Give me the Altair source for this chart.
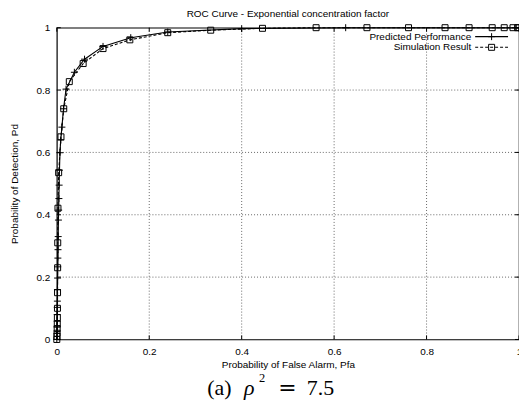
import altair as alt
import pandas as pd

# ---- data ----
pred_x = [0.0, 0.0002, 0.0004, 0.0006, 0.0008, 0.001, 0.0012, 0.0014, 0.0017, 0.002,
          0.0023, 0.0026, 0.003, 0.0035, 0.004, 0.0045, 0.005, 0.0058, 0.0068, 0.0085,
          0.011, 0.0145, 0.02, 0.038, 0.06, 0.1, 0.16, 0.24, 0.40, 0.625, 1.0]
pred_y = [0.0, 0.02, 0.04, 0.059, 0.08, 0.103, 0.123, 0.16, 0.197, 0.233,
          0.261, 0.288, 0.33, 0.383, 0.415, 0.452, 0.495, 0.543, 0.599, 0.64,
          0.681, 0.74, 0.803, 0.857, 0.899, 0.94, 0.968, 0.986, 0.997, 1.0, 1.0]

sim_x = [0.0, 0.0004, 0.0006, 0.0008, 0.001, 0.0012, 0.0014, 0.0016, 0.0018, 0.002,
         0.0025, 0.004, 0.009, 0.015, 0.027, 0.057, 0.100, 0.158, 0.240, 0.333,
         0.445, 0.561, 0.671, 0.761, 0.840, 0.892, 0.942, 0.968, 0.987, 0.997, 1.0]
sim_y = [0.0, 0.01, 0.02, 0.035, 0.05, 0.07, 0.10, 0.15, 0.23, 0.31,
         0.421, 0.535, 0.650, 0.740, 0.827, 0.885, 0.933, 0.961, 0.984, 0.992,
         0.998, 1.0, 1.0, 1.0, 1.0, 1.0, 1.0, 1.0, 1.0, 1.0, 1.0]

series_names = ["Predicted Performance", "Simulation Result"]
tick_values = [0, 0.2, 0.4, 0.6, 0.8, 1]
grid_values = [0.2, 0.4, 0.6, 0.8]
chart_title = "ROC Curve - Exponential concentration factor"
x_title = "Probability of False Alarm, Pfa"
y_title = "Probability of Detection, Pd"
caption_parts = ["(a)", "\u03c1", "2", "=", "7.5"]

# ---- layout ----
W, H = 464, 313
FONT = "Liberation Sans"
SERIF = "Liberation Serif"
PLUS = "M-1,0L1,0M0,-1L0,1"

pred = pd.DataFrame({"x": pred_x, "y": pred_y, "i": range(len(pred_x))})
sim = pd.DataFrame({"x": sim_x, "y": sim_y, "i": range(len(sim_x))})
ticks = pd.DataFrame({"v": tick_values})
grids = pd.DataFrame({"v": grid_values})

xs = alt.Scale(domain=[0, 1], nice=False, zero=False)
ys = alt.Scale(domain=[0, 1], nice=False, zero=False)

x_axis = alt.Axis(values=tick_values, format="~g", title=x_title, grid=False,
                  ticks=False, domain=False, labelPadding=7, labelFontSize=10,
                  labelFont=FONT, labelColor="#000", titleFont=FONT, titleFontSize=10,
                  titleFontWeight="normal", titleColor="#000", titlePadding=3.5,
                  labelOverlap=False, labelFlush=False)
y_axis = alt.Axis(values=tick_values, format="~g", title=y_title, grid=False,
                  ticks=False, domain=False, labelPadding=7, labelFontSize=10,
                  labelFont=FONT, labelColor="#000", titleFont=FONT, titleFontSize=10,
                  titleFontWeight="normal", titleColor="#000", titlePadding=17,
                  labelOverlap=False, labelFlush=False)

axes = alt.Chart(ticks).mark_point(opacity=0).encode(
    x=alt.X("v:Q", scale=xs, axis=x_axis),
    y=alt.Y("v:Q", scale=ys, axis=y_axis),
)

gx = alt.Chart(grids).mark_rule(color="#444", strokeDash=[1, 2], strokeWidth=0.8).encode(
    x=alt.X("v:Q", scale=xs), y=alt.value(0), y2=alt.value(H))
gy = alt.Chart(grids).mark_rule(color="#444", strokeDash=[1, 2], strokeWidth=0.8).encode(
    y=alt.Y("v:Q", scale=ys), x=alt.value(0), x2=alt.value(W))

tk_b = alt.Chart(ticks).mark_rule(color="#000", strokeWidth=1).encode(
    x=alt.X("v:Q", scale=xs), y=alt.value(H), y2=alt.value(H - 4))
tk_t = alt.Chart(ticks).mark_rule(color="#000", strokeWidth=1).encode(
    x=alt.X("v:Q", scale=xs), y=alt.value(0), y2=alt.value(4))
tk_l = alt.Chart(ticks).mark_rule(color="#000", strokeWidth=1).encode(
    y=alt.Y("v:Q", scale=ys), x=alt.value(0), x2=alt.value(4))
tk_r = alt.Chart(ticks).mark_rule(color="#000", strokeWidth=1).encode(
    y=alt.Y("v:Q", scale=ys), x=alt.value(W), x2=alt.value(W - 4))

pred_line = alt.Chart(pred).mark_line(color="#000", strokeWidth=1.1).encode(
    x=alt.X("x:Q", scale=xs), y=alt.Y("y:Q", scale=ys), order="i:O")
pred_pts = alt.Chart(pred).mark_point(shape=PLUS, filled=False, color="#000",
                                      strokeWidth=1, size=49, opacity=1).encode(
    x=alt.X("x:Q", scale=xs), y=alt.Y("y:Q", scale=ys))
sim_line = alt.Chart(sim).mark_line(color="#000", strokeWidth=1.1, strokeDash=[3, 2]).encode(
    x=alt.X("x:Q", scale=xs), y=alt.Y("y:Q", scale=ys), order="i:O")
sim_pts = alt.Chart(sim).mark_point(shape="square", filled=False, color="#000",
                                    strokeWidth=1, size=36, opacity=1).encode(
    x=alt.X("x:Q", scale=xs), y=alt.Y("y:Q", scale=ys))

# legend (drawn by hand, gnuplot style: text then sample)
leg = pd.DataFrame({"name": series_names, "row": [0, 1]})
leg_y = [9, 19.7]
leg_layers = []
for r, name in enumerate(series_names):
    d = leg[leg["row"] == r]
    leg_layers.append(alt.Chart(d).mark_text(align="right", baseline="middle", font=FONT,
                                             fontSize=10, color="#000").encode(
        text="name:N", x=alt.value(416), y=alt.value(leg_y[r])))
    rule_kw = {"color": "#000", "strokeWidth": 1.1}
    if r == 1:
        rule_kw["strokeDash"] = [3, 2]
    leg_layers.append(alt.Chart(d).mark_rule(**rule_kw).encode(
        x=alt.value(420), x2=alt.value(453), y=alt.value(leg_y[r])))
    if r == 0:
        leg_layers.append(alt.Chart(d).mark_point(shape=PLUS, filled=False, color="#000",
                                                  strokeWidth=1, size=49, opacity=1).encode(
            x=alt.value(436.5), y=alt.value(leg_y[r])))
    else:
        leg_layers.append(alt.Chart(d).mark_point(shape="square", filled=False, color="#000",
                                                  strokeWidth=1, size=36, opacity=1).encode(
            x=alt.value(436.5), y=alt.value(leg_y[r])))

title_df = pd.DataFrame({"t": [chart_title]})
title_layer = alt.Chart(title_df).mark_text(align="center", baseline="alphabetic", font=FONT,
                                             fontSize=10, color="#000").encode(
    text="t:N", x=alt.value(W / 2), y=alt.value(-11))

# caption "(a) rho^2 = 7.5"
cap = pd.DataFrame({"t": caption_parts, "k": range(len(caption_parts))})
cap_specs = [
    dict(x=151, y=369, size=22, font=SERIF, style="normal", align="left"),
    dict(x=188, y=369, size=22, font=SERIF, style="italic", align="left"),
    dict(x=203, y=355.5, size=12.5, font=SERIF, style="normal", align="left"),
    dict(x=231.5, y=369, size=22, font="DejaVu Serif", style="normal", align="center"),
    dict(x=251, y=369, size=22, font=SERIF, style="normal", align="left"),
]
cap_layers = []
for k, s in enumerate(cap_specs):
    cap_layers.append(alt.Chart(cap[cap["k"] == k]).mark_text(
        align=s["align"], baseline="alphabetic", font=s["font"], fontSize=s["size"],
        fontStyle=s["style"], color="#000").encode(
        text="t:N", x=alt.value(s["x"]), y=alt.value(s["y"])))

chart = alt.layer(
    axes, gx, gy, pred_line, sim_line, pred_pts, sim_pts,
    tk_b, tk_t, tk_l, tk_r, title_layer, *leg_layers, *cap_layers
).properties(
    width=W, height=H,
    autosize=alt.AutoSizeParams(type="none"),
    padding={"left": 49, "top": 19, "right": 0, "bottom": 63},
    background="#ffffff",
).configure_view(stroke="#000", strokeWidth=1.2)

chart.save("out.html", embed_options={"renderer": "svg", "actions": False})
